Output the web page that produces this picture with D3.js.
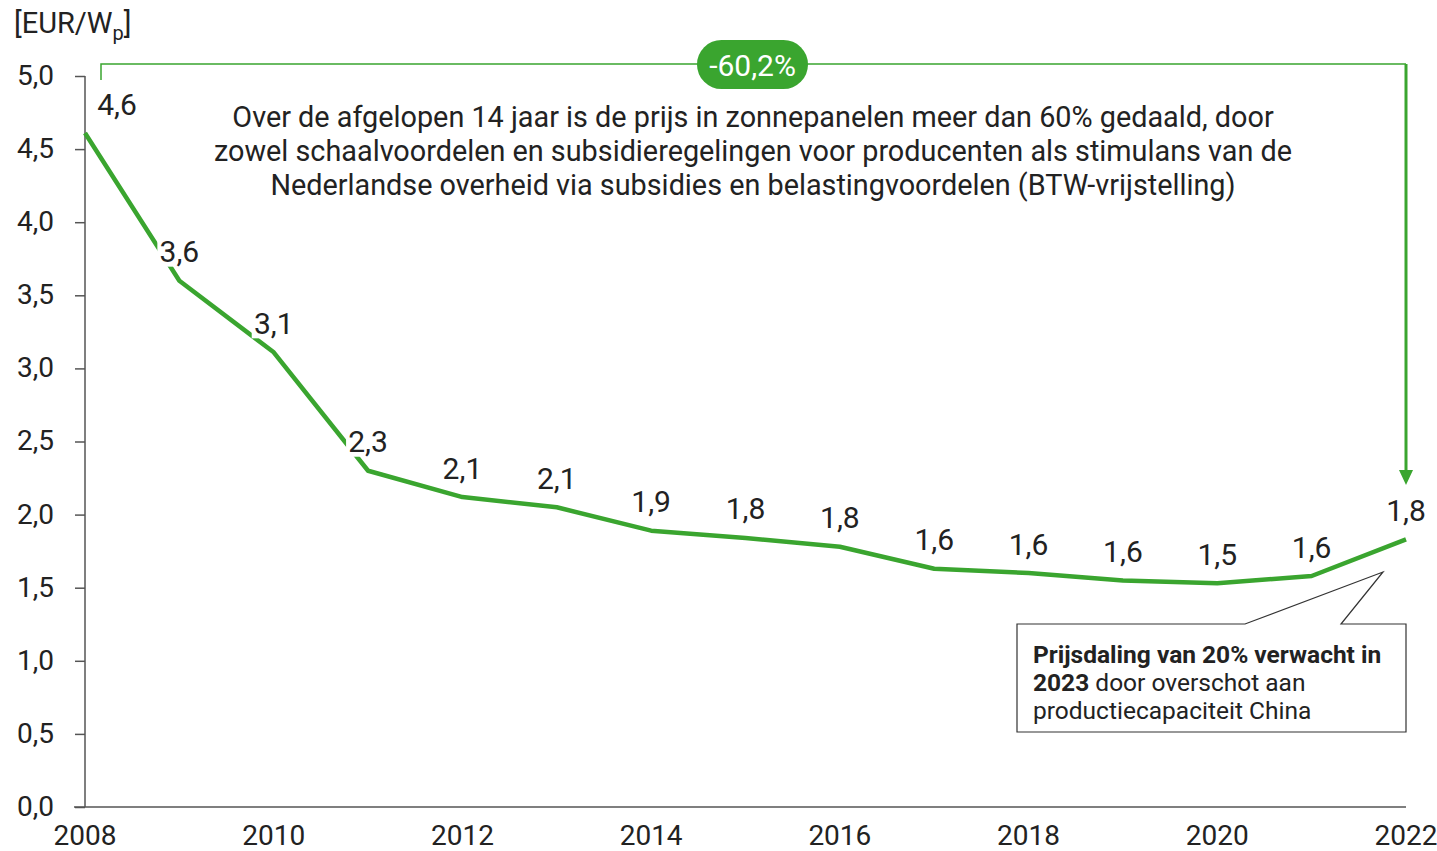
<!DOCTYPE html>
<html>
<head>
<meta charset="utf-8">
<script src="https://cdn.jsdelivr.net/npm/d3@7"></script>
<style>
  body { margin: 0; background: #fff; }
  svg text { font-family: Roboto, 'Liberation Sans', sans-serif; fill: #222; }
</style>
</head>
<body>
<div id="chart"></div>
<script>
// data
let years = [2008, 2009, 2010, 2011, 2012, 2013, 2014, 2015, 2016, 2017, 2018, 2019, 2020, 2021, 2022]
let prices = [4.61, 3.60, 3.11, 2.30, 2.12, 2.05, 1.89, 1.84, 1.78, 1.63, 1.60, 1.55, 1.53, 1.58, 1.83]
let labels = ['4,6', '3,6', '3,1', '2,3', '2,1', '2,1', '1,9', '1,8', '1,8', '1,6', '1,6', '1,6', '1,5', '1,6', '1,8']
let yTicks = [0, 0.5, 1, 1.5, 2, 2.5, 3, 3.5, 4, 4.5, 5]
let xTicks = [2008, 2010, 2012, 2014, 2016, 2018, 2020, 2022]
let noteLines = [
  'Over de afgelopen 14 jaar is de prijs in zonnepanelen meer dan 60% gedaald, door',
  'zowel schaalvoordelen en subsidieregelingen voor producenten als stimulans van de',
  'Nederlandse overheid via subsidies en belastingvoordelen (BTW-vrijstelling)'
]
let changeLabel = '-60,2%'

let width = 1437
let height = 851
let green = '#3aa52f'

let svg = d3.select('#chart')
            .append('svg')
            .attr('width', width)
            .attr('height', height)

let x = d3.scaleLinear().domain([2008, 2022]).range([85, 1406])
let y = d3.scaleLinear().domain([0, 5]).range([807, 76])

// y axis
let yAxis = svg.append('g')
               .attr('transform', 'translate(85,0)')
               .call(d3.axisLeft(y).tickValues(yTicks).tickSize(10).tickPadding(21)
                       .tickFormat(d => d3.format('.1f')(d).replace('.', ',')))
yAxis.select('.domain').attr('d', 'M0,' + y(5) + 'V' + y(0))
yAxis.selectAll('line, path').attr('stroke', '#555').attr('stroke-width', 1.5)
yAxis.selectAll('text').style('font-size', '28px').attr('dy', '0.3em')

// x axis baseline
svg.append('line')
   .attr('x1', 74).attr('x2', 1406)
   .attr('y1', y(0)).attr('y2', y(0))
   .attr('stroke', '#555').attr('stroke-width', 1.5)

svg.selectAll('.xlab')
   .data(xTicks)
   .enter()
   .append('text')
   .attr('class', 'xlab')
   .attr('x', d => x(d))
   .attr('y', 845)
   .attr('text-anchor', 'middle')
   .style('font-size', '28px')
   .text(d => d)

// unit
let unit = svg.append('text').attr('x', 14).attr('y', 33).style('font-size', '29px')
unit.append('tspan').text('[EUR/W')
unit.append('tspan').attr('dy', 7).style('font-size', '20px').text('p')
unit.append('tspan').attr('dy', -7).text(']')

// price line
let line = d3.line().x((d, i) => x(years[i])).y(d => y(d))
svg.append('path')
   .datum(prices)
   .attr('d', line)
   .attr('fill', 'none')
   .attr('stroke', green)
   .attr('stroke-width', 4.5)
   .attr('stroke-linejoin', 'round')

// value labels with white background
let lab = svg.selectAll('.vlab')
             .data(prices)
             .enter()
             .append('g')
             .attr('class', 'vlab')
             .attr('transform', (d, i) => {
               let dx = i === 0 ? 32 : 0
               return 'translate(' + (x(years[i]) + dx) + ',' + (y(d) - 29) + ')'
             })
lab.append('rect')
   .attr('x', -22).attr('y', -15)
   .attr('width', 44).attr('height', 30)
   .attr('fill', '#fff')
lab.append('text')
   .attr('text-anchor', 'middle')
   .attr('dy', '0.35em')
   .style('font-size', '30px')
   .text((d, i) => labels[i])

// -60,2% bracket
let topY = 64
svg.append('path')
   .attr('d', 'M101,' + 80 + 'V' + topY + 'H1406')
   .attr('fill', 'none')
   .attr('stroke', green)
   .attr('stroke-width', 1.5)
svg.append('line')
   .attr('x1', 1406).attr('x2', 1406)
   .attr('y1', topY).attr('y2', 472)
   .attr('stroke', green)
   .attr('stroke-width', 3)
svg.append('path')
   .attr('d', 'M1399,470 L1413,470 L1406,485 Z')
   .attr('fill', green)

svg.append('rect')
   .attr('x', 697).attr('y', 40)
   .attr('width', 111).attr('height', 49)
   .attr('rx', 24.5)
   .attr('fill', green)
svg.append('text')
   .attr('x', 752.5).attr('y', 65)
   .attr('dy', '0.35em')
   .attr('text-anchor', 'middle')
   .style('font-size', '30px')
   .style('fill', '#fff')
   .text(changeLabel)

// note text
svg.selectAll('.note')
   .data(noteLines)
   .enter()
   .append('text')
   .attr('class', 'note')
   .attr('x', 753)
   .attr('y', (d, i) => 127 + i * 34)
   .attr('text-anchor', 'middle')
   .style('font-size', '28.8px')
   .text(d => d)

// callout box
svg.append('path')
   .attr('d', 'M1017,624 H1245 L1383,572 L1341,624 H1406 V732 H1017 Z')
   .attr('fill', '#fff')
   .attr('stroke', '#333')
   .attr('stroke-width', 1.2)

let c1 = svg.append('text').attr('x', 1033).attr('y', 663).style('font-size', '24.5px')
c1.append('tspan').style('font-weight', 'bold').text('Prijsdaling van 20% verwacht in')
let c2 = svg.append('text').attr('x', 1033).attr('y', 691).style('font-size', '24.5px')
c2.append('tspan').style('font-weight', 'bold').text('2023')
c2.append('tspan').text(' door overschot aan')
svg.append('text').attr('x', 1033).attr('y', 719).style('font-size', '24.5px')
   .text('productiecapaciteit China')
</script>
</body>
</html>
